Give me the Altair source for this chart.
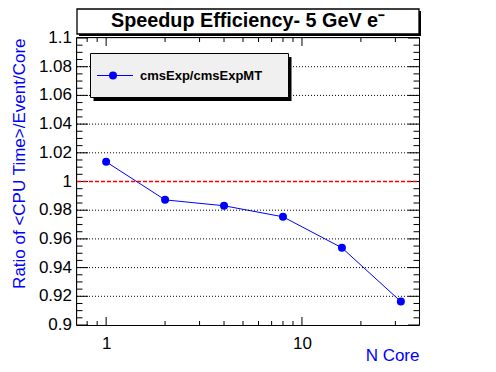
import altair as alt
import pandas as pd

# ---- data ----
n_core = [1, 2, 4, 8, 16, 32]
ratio = [1.0137, 0.9872, 0.9831, 0.9754, 0.9538, 0.9163]
series_name = "cmsExp/cmsExpMT"
title_text = "Speedup Efficiency- 5 GeV e\u207b"
x_title = "N Core"
y_title = "Ratio of <CPU Time>/Event/Core"
y_label_values = [0.9, 0.92, 0.94, 0.96, 0.98, 1.0, 1.02, 1.04, 1.06, 1.08, 1.1]
y_label_text = ["0.9", "0.92", "0.94", "0.96", "0.98", "1", "1.02", "1.04", "1.06", "1.08", "1.1"]
x_label_values = [1, 10]
grid_values = [0.92, 0.94, 0.96, 0.98, 1.02, 1.04, 1.06, 1.08]
ref_value = [1.0]
y_minor = [round(0.9 + 0.005 * i, 3) for i in range(41)]
y_minor = [v for v in y_minor if v not in y_label_values]
x_major = [1, 10]
x_minor = [0.8, 0.9, 2, 3, 4, 5, 6, 7, 8, 9, 20, 30]

W, H = 342, 287
FONT = "Liberation Sans"
BLUE = "#0000ff"
RED = "#ff0000"

xs = alt.Scale(type="log", domain=[0.71, 39.6], nice=False)
ys = alt.Scale(domain=[0.9, 1.1], nice=False, zero=False)

df = pd.DataFrame({"x": n_core, "y": ratio})
one = pd.DataFrame({"a": [0]})

x_enc = alt.X(
    "x:Q", scale=xs,
    axis=alt.Axis(values=x_label_values, format="~g", title=x_title,
                  ticks=False, domain=False, grid=False, labelFlush=False,
                  labelOverlap=False, labelFontSize=17, labelFont=FONT,
                  labelColor="black", labelBaseline="alphabetic", labelPadding=23,
                  titleFont=FONT, titleFontSize=17, titleFontWeight="normal",
                  titleColor=BLUE, titleAlign="right", titleAnchor="end",
                  titleX=W, titleY=35, titleBaseline="alphabetic"))
y_enc = alt.Y(
    "y:Q", scale=ys,
    axis=alt.Axis(labels=False, title=y_title,
                  ticks=False, domain=False, grid=False,
                  titleFont=FONT, titleFontSize=17, titleFontWeight="normal",
                  titleColor=BLUE, titleAngle=270, titleAlign="right",
                  titleAnchor="end", titleX=-53, titleY=0,
                  titleBaseline="alphabetic"))

line = alt.Chart(df).mark_line(color=BLUE, strokeWidth=1).encode(x=x_enc, y=y_enc)
pts = alt.Chart(df).mark_circle(color=BLUE, size=64, opacity=1).encode(
    x=alt.X("x:Q", scale=xs), y=alt.Y("y:Q", scale=ys))

ylab = alt.Chart(pd.DataFrame({"y": y_label_values, "t": y_label_text})).mark_text(
    font=FONT, fontSize=17, align="right", baseline="middle", color="black").encode(
    y=alt.Y("y:Q", scale=ys), x=alt.value(-5), text="t:N")

grid = alt.Chart(pd.DataFrame({"y": grid_values})).mark_rule(
    color="black", strokeWidth=1, strokeDash=[1, 2]).encode(
    y=alt.Y("y:Q", scale=ys), x=alt.value(0), x2=alt.value(W))
ref = alt.Chart(pd.DataFrame({"y": ref_value})).mark_rule(
    strokeWidth=1.6, strokeDash=[4, 2], color=RED, opacity=1).encode(
    y=alt.Y("y:Q", scale=ys), x=alt.value(0), x2=alt.value(W))

def yticks(vals, length):
    d = pd.DataFrame({"y": vals})
    left = alt.Chart(d).mark_rule(color="black", strokeWidth=1).encode(
        y=alt.Y("y:Q", scale=ys), x=alt.value(0), x2=alt.value(length))
    right = alt.Chart(d).mark_rule(color="black", strokeWidth=1).encode(
        y=alt.Y("y:Q", scale=ys), x=alt.value(W - length), x2=alt.value(W))
    return [left, right]

def xticks(vals, length):
    d = pd.DataFrame({"x": vals})
    bot = alt.Chart(d).mark_rule(color="black", strokeWidth=1).encode(
        x=alt.X("x:Q", scale=xs), y=alt.value(H - length), y2=alt.value(H))
    top = alt.Chart(d).mark_rule(color="black", strokeWidth=1).encode(
        x=alt.X("x:Q", scale=xs), y=alt.value(0), y2=alt.value(length))
    return [bot, top]

ticks = (yticks(y_label_values, 11) + yticks(y_minor, 5.5)
         + xticks(x_major, 8) + xticks(x_minor, 4))

# frame
frame = alt.Chart(one).mark_rect(fill=None, stroke="black", strokeWidth=1).encode(
    x=alt.value(-0.5), x2=alt.value(W + 0.5), y=alt.value(-0.5), y2=alt.value(H + 0.5))

# legend box
leg_shadow = alt.Chart(one).mark_rect(fill="black").encode(
    x=alt.value(16.5), x2=alt.value(214.5), y=alt.value(19), y2=alt.value(63))
leg_box = alt.Chart(one).mark_rect(fill="#f0f0f0", stroke="black", strokeWidth=1).encode(
    x=alt.value(13.5), x2=alt.value(211.5), y=alt.value(15.5), y2=alt.value(59.5))
leg_line = alt.Chart(one).mark_rule(color=BLUE, strokeWidth=1).encode(
    x=alt.value(20), x2=alt.value(56), y=alt.value(37.5))
leg_pt = alt.Chart(one).mark_circle(color=BLUE, size=64, opacity=1).encode(
    x=alt.value(36), y=alt.value(37.5))
leg_txt = alt.Chart(one).mark_text(
    text=series_name, font=FONT, fontSize=13, fontWeight="bold",
    align="left", baseline="middle", color="black").encode(
    x=alt.value(63), y=alt.value(37.7))

# title box
t_shadow = alt.Chart(one).mark_rect(fill="black").encode(
    x=alt.value(2), x2=alt.value(344), y=alt.value(-27), y2=alt.value(-2))
t_box = alt.Chart(one).mark_rect(fill="white", stroke="black", strokeWidth=1.3).encode(
    x=alt.value(0), x2=alt.value(342), y=alt.value(-29), y2=alt.value(-4))
t_txt = alt.Chart(one).mark_text(
    text=title_text, font=FONT, fontSize=19.8, fontWeight="bold",
    align="center", baseline="alphabetic", color="black").encode(
    x=alt.value(171), y=alt.value(-11.3))

chart = alt.layer(
    line, grid, *ticks, pts, ylab, frame,
    leg_shadow, leg_box, leg_line, leg_pt, leg_txt,
    t_shadow, t_box, t_txt, ref,
).properties(
    width=W, height=H,
    autosize=alt.AutoSizeParams(type="none"),
    padding={"left": 69, "top": 30, "right": 69, "bottom": 39},
).configure_view(stroke=None).configure_axis(
    labelOverlap=False, labelFlush=False
).configure(background="white")

chart.save("out.html", embed_options={"renderer": "svg", "actions": False})
